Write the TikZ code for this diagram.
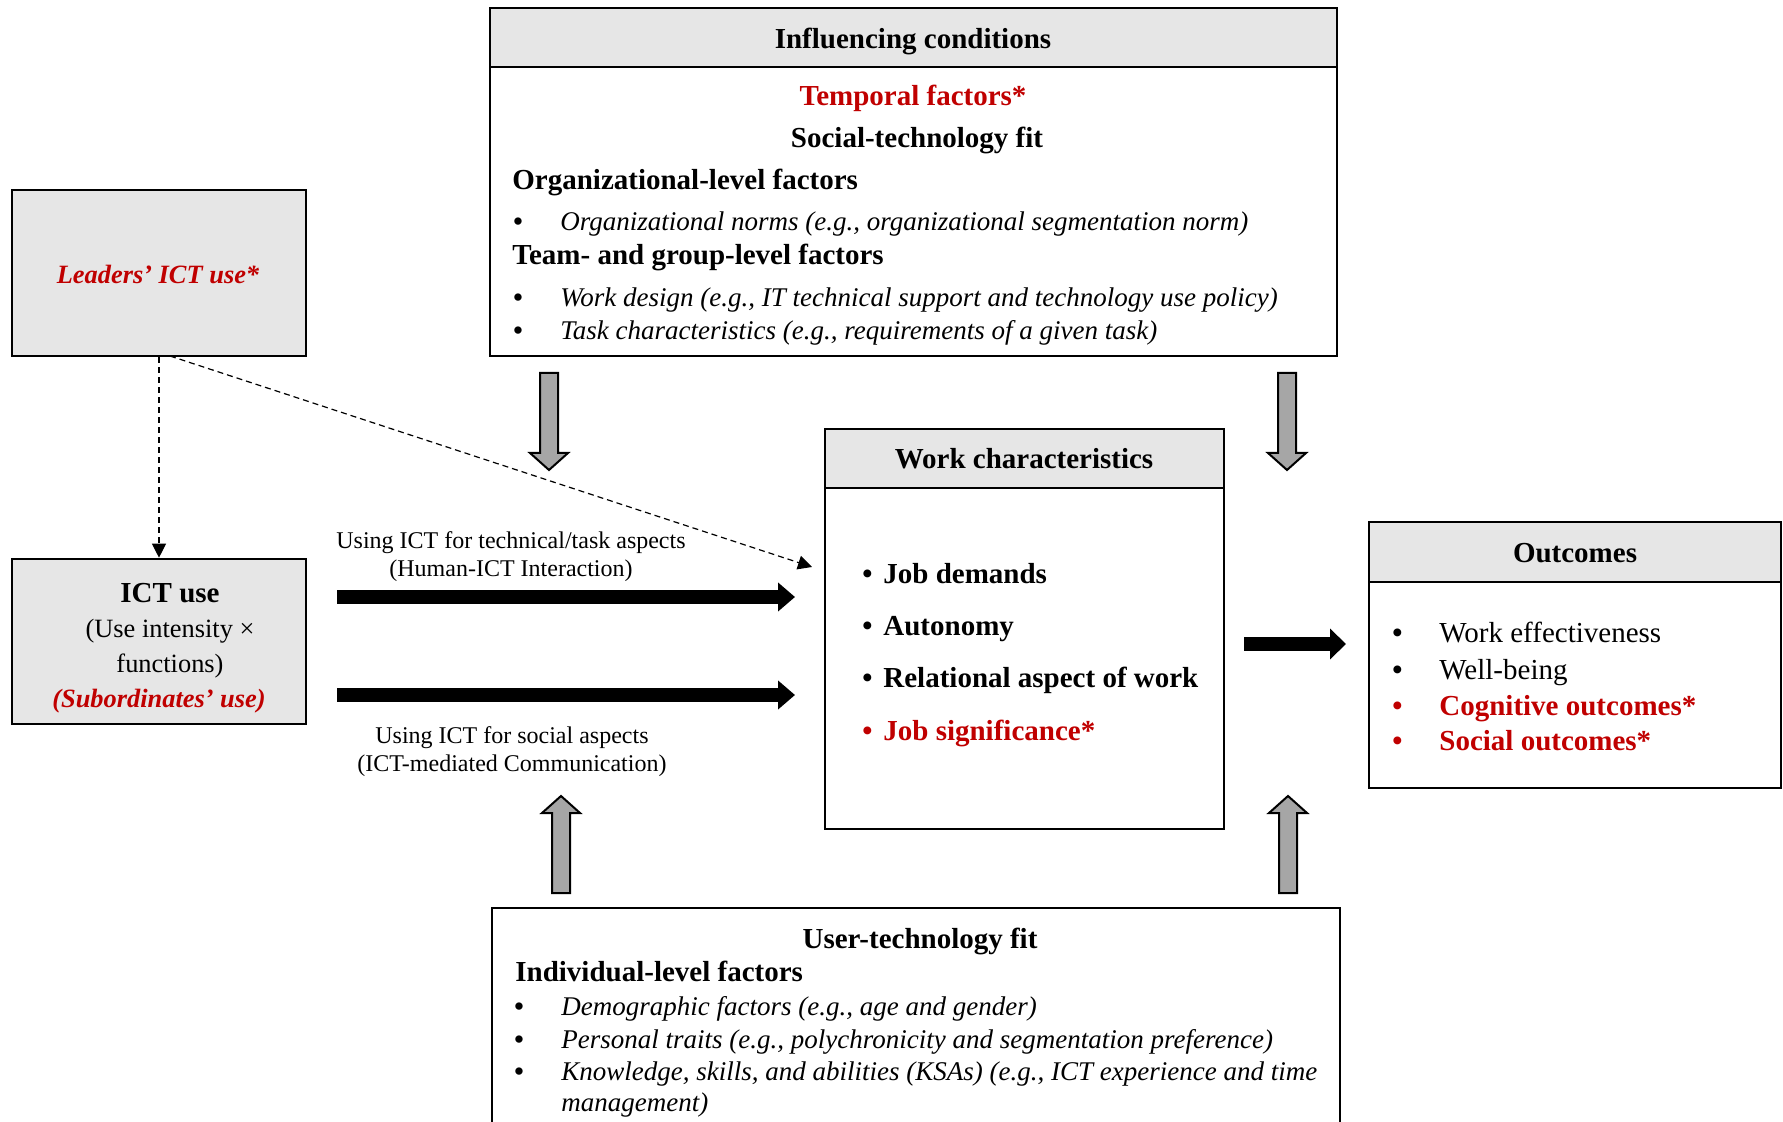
\documentclass[tikz,border=0pt]{standalone}
\usepackage{fontspec}
\setmainfont{Liberation Serif}
\usepackage{tikz}
\usetikzlibrary{arrows.meta}
\usetikzlibrary{fit}
\definecolor{hdrgray}{HTML}{E6E6E6}
\definecolor{arrgray}{HTML}{A6A6A6}
\definecolor{darkred}{HTML}{C00000}
\newcommand{\fbig}{\fontsize{14.5}{17}\selectfont}
\newcommand{\fmid}{\fontsize{13.5}{15.5}\selectfont}
\newcommand{\fsml}{\fontsize{13.2}{15}\selectfont}
\newcommand{\bul}{\makebox[23.5pt][l]{\bfseries\textbullet}}
\newcommand{\wbul}{\makebox[10.5pt][l]{\textbullet}}
\newcommand{\garrdown}[2]{\filldraw[fill=arrgray, line width=1pt] (#1,#2) ++(-9,0) -- ++(18,0) -- ++(0,80) -- ++(10,0) -- ++(-19,17) -- ++(-19,-17) -- ++(10,0) -- cycle;}
\newcommand{\garrup}[2]{\filldraw[fill=arrgray, line width=1pt] (#1,#2) ++(-9,0) -- ++(18,0) -- ++(0,-80) -- ++(10,0) -- ++(-19,-17) -- ++(-19,17) -- ++(10,0) -- cycle;}

\begin{document}
\begin{tikzpicture}[x=0.5pt, y=-0.5pt,
    box/.style={draw, line width=1.3pt, inner sep=0pt},
    hdr/.style={box, fill=hdrgray},
    ttl/.style={font=\fbig\bfseries, inner sep=0pt, text height=11.5pt, text depth=1.5pt},
    itm/.style={font=\fmid, inner sep=0pt, anchor=west, text height=11.5pt, text depth=1.5pt},
    wcitm/.style={font=\fbig\bfseries, inner sep=0pt, anchor=west, text height=11.5pt, text depth=1.5pt},
    sml/.style={font=\fsml, inner sep=0pt, text height=10.5pt, text depth=1.5pt},
    lbl/.style={font=\fontsize{12}{14}\selectfont, align=center, inner sep=0pt},
    blk/.style={line width=7pt, -{Triangle[length=8.5pt, width=14pt]}},
    dsh/.style={dashed, dash pattern=on 3pt off 2pt, line width=0.6pt, -{Triangle[length=7pt, width=7pt]}}]
    \useasboundingbox (0,0) rectangle (1783,1122);
    % leaders
    \node[hdr, fit={(12,190) (306,356)}] (lead) {};
    \node[sml, text=darkred, font=\fsml\bfseries\itshape] (leadt) at (158,275) {Leaders' ICT use*};
    % ict use
    \node[hdr, fit={(12,559) (306,724)}] (ict) {};
    \node[ttl] (ictt) at (170,593) {ICT use};
    \node[sml] (icta) at (170,629) {(Use intensity ×};
    \node[sml] (ictb) at (170,663) {functions)};
    \node[sml, text=darkred, font=\fsml\bfseries\itshape] (ictc) at (159,698) {(Subordinates' use)};
    % influencing conditions
    \node[box, fit={(490,8) (1337,356)}] (inf) {};
    \node[hdr, fit={(490,8) (1337,67)}] (infh) {};
    \node[ttl] (inft) at (913,39) {Influencing conditions};
    \node[ttl, text=darkred] (temp) at (913,96) {Temporal factors*};
    \node[ttl] (stf) at (917,138) {Social-technology fit};
    \node[ttl, anchor=west] (org) at (512,180) {Organizational-level factors};
    \node[itm] (org1) at (513,221) {\bul\textit{Organizational norms (e.g., organizational segmentation norm)}};
    \node[ttl, anchor=west] (team) at (512,255) {Team- and group-level factors};
    \node[itm] (team1) at (513,297) {\bul\textit{Work design (e.g., IT technical support and technology use policy)}};
    \node[itm] (team2) at (513,330) {\bul\textit{Task characteristics (e.g., requirements of a given task)}};
    % work characteristics
    \node[box, fit={(825,429) (1224,829)}] (wc) {};
    \node[hdr, fit={(825,429) (1224,488)}] (wch) {};
    \node[ttl] (wct) at (1024,459) {Work characteristics};
    \node[wcitm] (wc1) at (862,574) {\wbul Job demands};
    \node[wcitm] (wc2) at (862,626) {\wbul Autonomy};
    \node[wcitm] (wc3) at (862,678) {\wbul Relational aspect of work};
    \node[wcitm, text=darkred] (wc4) at (862,730) {\wbul Job significance*};
    % outcomes
    \node[box, fit={(1369,522) (1781,788)}] (out) {};
    \node[hdr, fit={(1369,522) (1781,582)}] (outh) {};
    \node[ttl] (outt) at (1575,553) {Outcomes};
    \node[itm, font=\fbig] (out1) at (1392,633) {\bul Work effectiveness};
    \node[itm, font=\fbig] (out2) at (1392,669) {\bul Well-being};
    \node[itm, font=\fbig\bfseries, text=darkred] (out3) at (1392,705) {\bul Cognitive outcomes*};
    \node[itm, font=\fbig\bfseries, text=darkred] (out4) at (1392,740) {\bul Social outcomes*};
    % user-technology fit
    \node[box, fit={(492,908) (1340,1140)}] (utf) {};
    \node[ttl] (utft) at (920,938) {User-technology fit};
    \node[ttl, anchor=west] (ind) at (515,971) {Individual-level factors};
    \node[itm] (ind1) at (514,1005) {\bul\textit{Demographic factors (e.g., age and gender)}};
    \node[itm] (ind2) at (514,1038) {\bul\textit{Personal traits (e.g., polychronicity and segmentation preference)}};
    \node[itm] (ind3) at (514,1070) {\bul\textit{Knowledge, skills, and abilities (KSAs) (e.g., ICT experience and time}};
    \node[itm] (ind4) at (561,1101) {\textit{management)}};
    % labels
    \node[lbl] (tech) at (511,557) {Using ICT for technical/task aspects\\(Human-ICT Interaction)};
    \node[lbl] (soc) at (512,752) {Using ICT for social aspects\\(ICT-mediated Communication)};
    % arrows
    \coordinate (a1s) at (337,597);
    \coordinate (a1e) at (795,597);
    \coordinate (a2s) at (337,695);
    \coordinate (a2e) at (795,695);
    \coordinate (a3s) at (1244,644);
    \coordinate (a3e) at (1346,644);
    \coordinate (leadd) at (170,356);
    \coordinate (wcin) at (812,567);
    \draw[blk] (a1s) -- (a1e);
    \draw[blk] (a2s) -- (a2e);
    \draw[blk, -{Triangle[length=8pt, width=15pt]}] (a3s) -- (a3e);
    \draw[dsh] (lead) -- (ict);
    \draw[dsh] (leadd) -- (wcin);
    \garrdown{549}{373}
    \garrdown{1287}{373}
    \garrup{561}{893}
    \garrup{1288}{893}
\end{tikzpicture}
\end{document}
